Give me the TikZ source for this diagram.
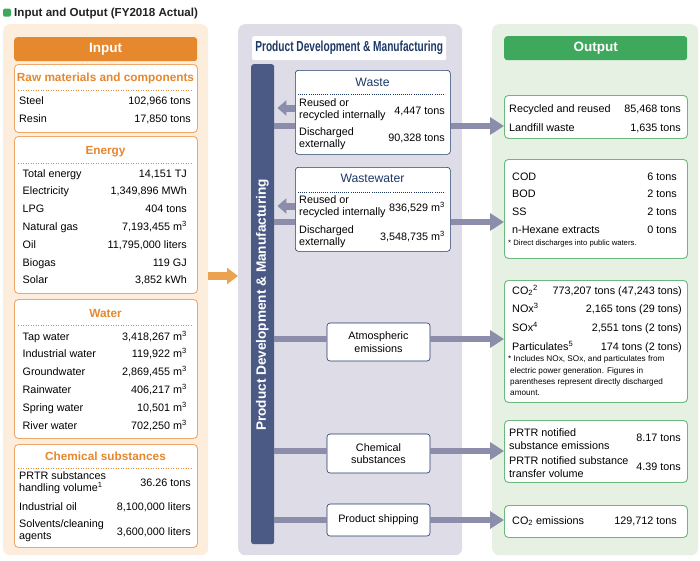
\documentclass[tikz,border=0pt]{standalone}
\usepackage{fontspec}
\setmainfont{Liberation Sans}
\newfontfamily\narrowfont[FakeStretch=0.7]{Liberation Sans}
\usetikzlibrary{arrows.meta}

\definecolor{inbg}{HTML}{FDEDDC}
\definecolor{inorange}{HTML}{E5882E}
\definecolor{inedge}{HTML}{EDA86A}
\definecolor{inarrow}{HTML}{EBA350}
\definecolor{midbg}{HTML}{DDDCE7}
\definecolor{midbar}{HTML}{4B5A85}
\definecolor{midnavy}{HTML}{1F3967}
\definecolor{linkgrey}{HTML}{8B8DAB}
\definecolor{outbg}{HTML}{E7F1E3}
\definecolor{outgreen}{HTML}{3EA85C}
\definecolor{outedge}{HTML}{6BB87A}
\definecolor{titletext}{HTML}{222222}

\tikzset{
	body/.style={font=\fontsize{10.8}{12.3}\selectfont, inner sep=0pt},
	note/.style={font=\fontsize{7.7}{9}\selectfont, inner sep=0pt},
	panel/.style={anchor=north west, rounded corners=7pt, inner sep=0pt},
	header/.style={anchor=north west, rounded corners=3pt, inner sep=0pt, minimum width=183pt, minimum height=24pt, text=white, font=\fontsize{13.5}{15}\selectfont\bfseries},
	inbox/.style={anchor=north west, draw=inedge, line width=0.9pt, fill=white, rounded corners=4pt, minimum width=183pt, inner sep=0pt},
	intitle/.style={anchor=base, inner sep=0pt, text=inorange, font=\fontsize{11.8}{13}\selectfont\bfseries},
	indots/.style={inorange, line width=0.9pt, dash pattern=on 0.9pt off 1.6pt},
	midbox/.style={draw=midnavy, line width=0.6pt, fill=white, rounded corners=3pt, inner sep=0pt, align=center, font=\fontsize{10.8}{12.3}\selectfont},
	midtitle/.style={anchor=base, inner sep=0pt, text=midnavy, font=\fontsize{12.2}{14}\selectfont},
	middots/.style={midnavy, line width=0.6pt, dash pattern=on 0.7pt off 1.4pt},
	outbox/.style={anchor=north west, draw=outedge, line width=0.9pt, fill=white, rounded corners=4pt, minimum width=183pt, inner sep=0pt},
	link/.style={linkgrey, line width=6pt},
	linkout/.style={link, -{Triangle[length=14pt, width=17pt]}},
	linkback/.style={linkgrey, line width=7pt, shorten >=3pt, -{Triangle[length=9pt, width=15pt]}},
}

\begin{document}
\begin{tikzpicture}[x=1pt, y=-1pt]
	\useasboundingbox (0,0) rectangle (700,560);
	\node[fill=outgreen, rounded corners=1.5pt, minimum size=8pt, inner sep=0pt] (icon) at (7,12.5) {};
	\node[anchor=base west, inner sep=0pt, text=titletext, font=\fontsize{11.6}{13}\selectfont\bfseries] (title) at (14,16.5) {Input and Output (FY2018 Actual)};

	\node[panel, fill=inbg, minimum width=205pt, minimum height=531pt] (inpanel) at (3,24) {};
	\node[header, fill=inorange] (inhead) at (14,37) {Input};

	\node[inbox, minimum height=68pt] (raw) at (14,64) {};
	\node[intitle] (rawtitle) at (105.5,81) {Raw materials and components};
	\draw[indots] (18,90) -- (192,90);
	\foreach \lbl/\amt [count=\i] in {Steel/{102,966 tons}, Resin/{17,850 tons}} {
		\node[body, anchor=base west] (raw-l\i) at (19,{104+18*(\i-1)}) {\lbl};
		\node[body, anchor=base east] (raw-v\i) at (191,{104+18*(\i-1)}) {\amt};
	}

	\node[inbox, minimum height=157pt] (energy) at (14,136) {};
	\node[intitle] (energytitle) at (105.5,154) {Energy};
	\draw[indots] (18,163) -- (192,163);
	\foreach \lbl/\amt [count=\i] in {Total energy/{14,151 TJ}, Electricity/{1,349,896 MWh}, LPG/{404 tons}, Natural gas/{7,193,455 m\textsuperscript{3}}, Oil/{11,795,000 liters}, Biogas/{119 GJ}, Solar/{3,852 kWh}} {
		\node[body, anchor=base west] (energy-l\i) at (22.5,{177+17.8*(\i-1)}) {\lbl};
		\node[body, anchor=base east] (energy-v\i) at (187,{177+17.8*(\i-1)}) {\amt};
	}

	\node[inbox, minimum height=139pt] (water) at (14,299) {};
	\node[intitle] (watertitle) at (105.5,317) {Water};
	\draw[indots] (18,325) -- (192,325);
	\foreach \lbl/\amt [count=\i] in {Tap water/{3,418,267 m\textsuperscript{3}}, Industrial water/{119,922 m\textsuperscript{3}}, Groundwater/{2,869,455 m\textsuperscript{3}}, Rainwater/{406,217 m\textsuperscript{3}}, Spring water/{10,501 m\textsuperscript{3}}, River water/{702,250 m\textsuperscript{3}}} {
		\node[body, anchor=base west] (water-l\i) at (22.5,{340+17.8*(\i-1)}) {\lbl};
		\node[body, anchor=base east] (water-v\i) at (187,{340+17.8*(\i-1)}) {\amt};
	}

	\node[inbox, minimum height=103pt] (chemin) at (14,444) {};
	\node[intitle] (chemintitle) at (105.5,460) {Chemical substances};
	\draw[indots] (18,468) -- (192,468);
	\node[body, anchor=west, align=left] (chemin-l1) at (19,483) {PRTR substances\\handling volume\textsuperscript{1}};
	\node[body, anchor=base east] (chemin-v1) at (191,486) {36.26 tons};
	\node[body, anchor=base west] (chemin-l2) at (19,510) {Industrial oil};
	\node[body, anchor=base east] (chemin-v2) at (191,510) {8,100,000 liters};
	\node[body, anchor=west, align=left] (chemin-l3) at (19,531) {Solvents/cleaning\\agents};
	\node[body, anchor=base east] (chemin-v3) at (191,535) {3,600,000 liters};

	\node[panel, fill=midbg, minimum width=224pt, minimum height=531pt] (midpanel) at (238,24) {};
	\node[anchor=north west, fill=white, rounded corners=2pt, minimum width=194pt, minimum height=24pt, inner sep=0pt, text=midnavy, font=\narrowfont\fontsize{14.5}{16}\selectfont\bfseries] (midhead) at (252,36) {Product Development \& Manufacturing};
	\node[anchor=north west, fill=midbar, rounded corners=2.5pt, minimum width=23pt, minimum height=480pt, inner sep=0pt] (bar) at (251,64) {};
	\node[rotate=90, text=white, inner sep=0pt, font=\fontsize{13.6}{15}\selectfont\bfseries] (bartext) at (262.5,305) {Product Development \& Manufacturing};
	\draw[inarrow, line width=8pt, -{Triangle[length=11pt, width=16pt]}] (inpanel.east |- 0,276) -- (midpanel.west |- 0,276);

	\node[midbox, anchor=north west, minimum width=155pt, minimum height=84pt] (waste) at (295,70) {};
	\node[midtitle] (wastetitle) at (372.5,86.5) {Waste};
	\draw[middots] (298,94) -- (445,94);
	\node[body, anchor=west, align=left] (waste-l1) at (299,110) {Reused or\\recycled internally};
	\node[body, anchor=base east] (waste-v1) at (445,114) {4,447 tons};
	\node[body, anchor=west, align=left] (waste-l2) at (299,139) {Discharged\\externally};
	\node[body, anchor=base east] (waste-v2) at (445,141) {90,328 tons};

	\node[midbox, anchor=north west, minimum width=155pt, minimum height=84pt] (wwater) at (295,167) {};
	\node[midtitle] (wwatertitle) at (372.5,182.5) {Wastewater};
	\draw[middots] (298,192) -- (445,192);
	\node[body, anchor=west, align=left] (wwater-l1) at (299,207) {Reused or\\recycled internally};
	\node[body, anchor=base east] (wwater-v1) at (445,211) {836,529 m\textsuperscript{3}};
	\node[body, anchor=west, align=left] (wwater-l2) at (299,236.5) {Discharged\\externally};
	\node[body, anchor=base east] (wwater-v2) at (445,240) {3,548,735 m\textsuperscript{3}};

	\node[midbox, minimum width=103pt, minimum height=38pt] (air) at (378.5,342) {Atmospheric\\emissions};
	\node[midbox, minimum width=103pt, minimum height=39pt] (chem) at (378.5,453.5) {Chemical\\substances};
	\node[midbox, minimum width=103pt, minimum height=32pt] (ship) at (378.5,520) {Product shipping};

	\node[panel, fill=outbg, minimum width=206pt, minimum height=531pt] (outpanel) at (492,24) {};
	\node[header, fill=outgreen] (outhead) at (504,36) {Output};

	\node[outbox, minimum height=43pt] (outwaste) at (504,95) {};
	\node[body, anchor=base west] (outwaste-l1) at (509,112) {Recycled and reused};
	\node[body, anchor=base east] (outwaste-v1) at (681,112) {85,468 tons};
	\node[body, anchor=base west] (outwaste-l2) at (509,131) {Landfill waste};
	\node[body, anchor=base east] (outwaste-v2) at (681,131) {1,635 tons};

	\node[outbox, minimum height=99pt] (outwater) at (504,159) {};
	\foreach \lbl/\amt [count=\i] in {COD/{6 tons}, BOD/{2 tons}, SS/{2 tons}, n-Hexane extracts/{0 tons}} {
		\node[body, anchor=base west] (outwater-l\i) at (512,{180+17.7*(\i-1)}) {\lbl};
		\node[body, anchor=base east] (outwater-v\i) at (677,{180+17.7*(\i-1)}) {\amt};
	}
	\node[note, anchor=base west] (outwater-n) at (508,245) {* Direct discharges into public waters.};

	\node[outbox, minimum height=122pt] (outair) at (504,280) {};
	\foreach \lbl/\amt [count=\i] in {CO\textsubscript{2}\textsuperscript{2}/{773,207 tons (47,243 tons)}, NOx\textsuperscript{3}/{2,165 tons (29 tons)}, SOx\textsuperscript{4}/{2,551 tons (2 tons)}, Particulates\textsuperscript{5}/{174 tons (2 tons)}} {
		\node[body, anchor=base west] (outair-l\i) at (512,{294+18.9*(\i-1)}) {\lbl};
		\node[body, anchor=base east] (outair-v\i) at (682,{294+18.9*(\i-1)}) {\amt};
	}
	\node[inner sep=0pt, anchor=north west, align=left, font=\fontsize{8.2}{11.3}\selectfont] (outair-n) at (508,355.8) {* Includes NOx, SOx, and particulates from\\\hspace*{2pt}electric power generation. Figures in\\\hspace*{2pt}parentheses represent directly discharged\\\hspace*{2pt}amount.};

	\node[outbox, minimum height=62pt] (outchem) at (504,420) {};
	\node[body, anchor=west, align=left] (outchem-l1) at (509,439) {PRTR notified\\substance emissions};
	\node[body, anchor=base east] (outchem-v1) at (681,441) {8.17 tons};
	\node[body, anchor=west, align=left] (outchem-l2) at (509,467) {PRTR notified substance\\transfer volume};
	\node[body, anchor=base east] (outchem-v2) at (681,470) {4.39 tons};

	\node[outbox, minimum height=32pt] (outship) at (504,505) {};
	\node[body, anchor=base west] (outship-l1) at (512,524) {CO\textsubscript{2} emissions};
	\node[body, anchor=base east] (outship-v1) at (677,524) {129,712 tons};

	\draw[link] (bar.east |- 0,126) -- (waste.west |- 0,126);
	\draw[linkout] (waste.east |- 0,126) -- (outwaste.west |- 0,126);
	\draw[linkback] (waste.west |- 0,108) -- (bar.east |- 0,108);
	\draw[link] (bar.east |- 0,222) -- (wwater.west |- 0,222);
	\draw[linkout] (wwater.east |- 0,222) -- (outwater.west |- 0,222);
	\draw[linkback] (wwater.west |- 0,206) -- (bar.east |- 0,206);
	\draw[link] (bar.east |- 0,339) -- (air.west |- 0,339);
	\draw[linkout] (air.east |- 0,339) -- (outair.west |- 0,339);
	\draw[link] (bar.east |- 0,451) -- (chem.west |- 0,451);
	\draw[linkout] (chem.east |- 0,451) -- (outchem.west |- 0,451);
	\draw[link] (bar.east |- 0,520) -- (ship.west |- 0,520);
	\draw[linkout] (ship.east |- 0,520) -- (outship.west |- 0,520);
\end{tikzpicture}
\end{document}
